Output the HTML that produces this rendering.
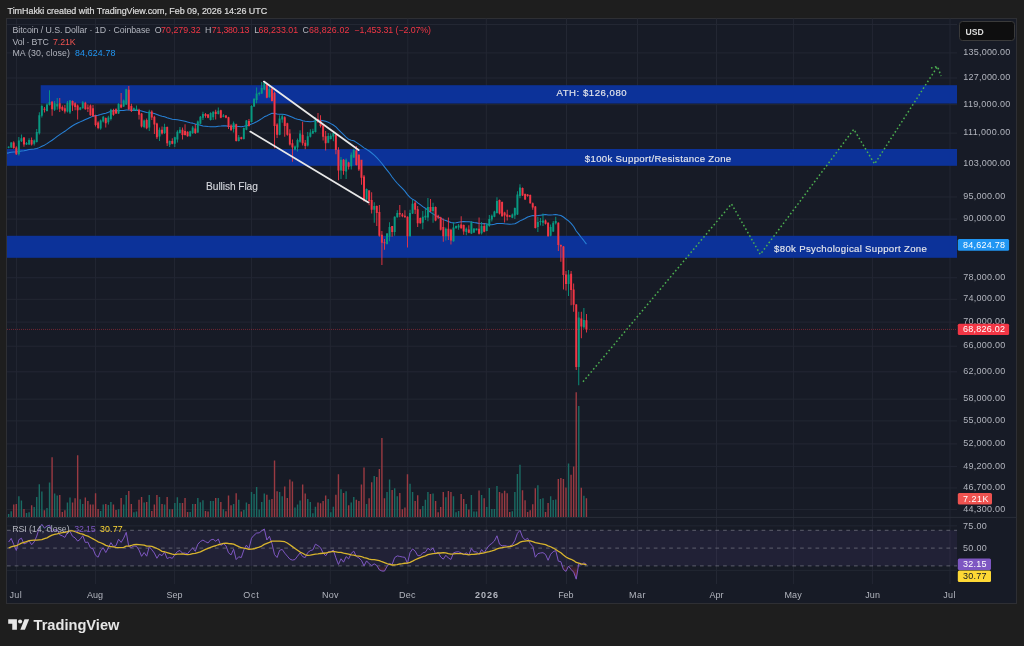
<!DOCTYPE html>
<html><head><meta charset="utf-8"><style>html,body{margin:0;padding:0;background:#1e1e1e;width:1024px;height:646px;overflow:hidden}</style></head>
<body><div style="will-change:transform;width:1024px;height:646px"><svg width="1024" height="646" viewBox="0 0 1024 646" style="display:block"><rect x="0" y="0" width="1024" height="646" fill="#1e1e1e"/><defs><clipPath id="chartclip"><rect x="7" y="18.5" width="950" height="499"/></clipPath></defs><rect x="6.5" y="18.5" width="1010" height="585" fill="#171b26" stroke="#2e2f34" stroke-width="1"/><path d="M16.6 18.5V584 M95.6 18.5V584 M174.6 18.5V584 M251.6 18.5V584 M330.3 18.5V584 M407.8 18.5V584 M486.3 18.5V584 M566.5 18.5V584 M637.5 18.5V584 M716.5 18.5V584 M793.6 18.5V584 M872.4 18.5V584 M950.0 18.5V584 M7 52.93H957 M7 77.97H957 M7 104.63H957 M7 133.15H957 M7 163.80H957 M7 196.94H957 M7 219.09H957 M7 277.74H957 M7 299.31H957 M7 322.08H957 M7 346.20H957 M7 371.82H957 M7 399.15H957 M7 420.91H957 M7 443.90H957 M7 466.58H957 M7 487.95H957 M7 509.57H957 M7 24.5H957 M7 525.85H957 M7 570.35H957" stroke="#232733" stroke-width="1" fill="none"/><path d="M7 517.4H1017" stroke="#2a2e39" stroke-width="1"/><g fill="#0c3299" fill-opacity="1"><rect x="40.7" y="85.2" width="916.3" height="18.3"/><rect x="7" y="149" width="950" height="16.8"/><rect x="7" y="235.8" width="950" height="22"/></g><path d="M7.93 514.0H9.33V517H7.93ZM10.49 511.2H11.89V517H10.49ZM18.16 496.3H19.56V517H18.16ZM20.71 500.4H22.11V517H20.71ZM25.83 513.0H27.23V517H25.83ZM28.38 512.2H29.78V517H28.38ZM33.50 506.9H34.90V517H33.50ZM36.05 497.0H37.45V517H36.05ZM38.61 484.2H40.01V517H38.61ZM41.17 491.4H42.57V517H41.17ZM46.28 508.1H47.68V517H46.28ZM48.84 482.4H50.24V517H48.84ZM53.95 493.5H55.35V517H53.95ZM56.51 495.4H57.91V517H56.51ZM66.73 502.5H68.13V517H66.73ZM69.29 497.6H70.69V517H69.29ZM79.52 499.2H80.92V517H79.52ZM82.07 504.0H83.47V517H82.07ZM99.97 511.0H101.37V517H99.97ZM102.53 504.4H103.93V517H102.53ZM107.64 505.0H109.04V517H107.64ZM110.20 501.9H111.60V517H110.20ZM117.87 509.3H119.27V517H117.87ZM122.98 504.4H124.38V517H122.98ZM125.54 494.9H126.94V517H125.54ZM133.21 512.2H134.61V517H133.21ZM135.76 511.6H137.16V517H135.76ZM143.44 502.5H144.84V517H143.44ZM148.55 494.9H149.95V517H148.55ZM158.78 497.0H160.18V517H158.78ZM163.89 504.4H165.29V517H163.89ZM169.00 509.3H170.40V517H169.00ZM174.12 502.9H175.52V517H174.12ZM176.67 497.3H178.07V517H176.67ZM179.23 502.9H180.63V517H179.23ZM189.46 512.1H190.86V517H189.46ZM192.01 504.0H193.41V517H192.01ZM197.13 498.0H198.53V517H197.13ZM199.68 502.3H201.08V517H199.68ZM202.24 500.3H203.64V517H202.24ZM209.91 501.0H211.31V517H209.91ZM212.47 501.0H213.87V517H212.47ZM217.58 498.0H218.98V517H217.58ZM222.69 509.3H224.09V517H222.69ZM232.92 504.0H234.32V517H232.92ZM238.03 499.8H239.43V517H238.03ZM243.15 510.1H244.55V517H243.15ZM245.70 502.5H247.10V517H245.70ZM250.82 492.0H252.22V517H250.82ZM253.37 494.1H254.77V517H253.37ZM255.93 487.1H257.33V517H255.93ZM258.49 509.4H259.89V517H258.49ZM261.04 502.0H262.44V517H261.04ZM263.60 493.4H265.00V517H263.60ZM268.71 499.7H270.11V517H268.71ZM278.94 492.0H280.34V517H278.94ZM281.50 496.2H282.90V517H281.50ZM294.28 507.4H295.68V517H294.28ZM296.84 504.6H298.24V517H296.84ZM299.39 500.4H300.79V517H299.39ZM307.06 499.0H308.46V517H307.06ZM309.62 502.0H311.02V517H309.62ZM312.18 513.2H313.58V517H312.18ZM314.73 506.7H316.13V517H314.73ZM327.52 499.0H328.92V517H327.52ZM330.07 512.2H331.47V517H330.07ZM332.63 506.7H334.03V517H332.63ZM340.30 489.2H341.70V517H340.30ZM345.41 491.3H346.81V517H345.41ZM350.53 502.5H351.93V517H350.53ZM353.08 496.9H354.48V517H353.08ZM365.87 503.9H367.27V517H365.87ZM373.54 476.0H374.94V517H373.54ZM386.32 492.0H387.72V517H386.32ZM388.88 479.5H390.28V517H388.88ZM393.99 488.3H395.39V517H393.99ZM396.55 496.2H397.95V517H396.55ZM409.33 483.7H410.73V517H409.33ZM411.89 492.0H413.29V517H411.89ZM422.12 506.0H423.52V517H422.12ZM424.67 499.7H426.07V517H424.67ZM427.23 492.0H428.63V517H427.23ZM432.34 493.4H433.74V517H432.34ZM445.13 497.2H446.53V517H445.13ZM452.80 496.2H454.20V517H452.80ZM455.35 512.2H456.75V517H455.35ZM457.91 511.1H459.31V517H457.91ZM465.58 504.1H466.98V517H465.58ZM470.69 495.1H472.09V517H470.69ZM473.25 511.6H474.65V517H473.25ZM475.81 511.6H477.21V517H475.81ZM480.92 495.1H482.32V517H480.92ZM486.03 506.9H487.43V517H486.03ZM488.59 488.1H489.99V517H488.59ZM491.15 509.1H492.55V517H491.15ZM493.70 509.1H495.10V517H493.70ZM496.26 486.1H497.66V517H496.26ZM511.60 511.3H513.00V517H511.60ZM514.16 492.0H515.56V517H514.16ZM516.71 474.1H518.11V517H516.71ZM519.27 464.8H520.67V517H519.27ZM537.17 485.2H538.57V517H537.17ZM539.72 498.9H541.12V517H539.72ZM542.28 498.2H543.68V517H542.28ZM549.95 496.2H551.35V517H549.95ZM552.51 499.9H553.91V517H552.51ZM555.06 499.5H556.46V517H555.06ZM567.85 463.4H569.25V517H567.85ZM578.07 405.9H579.47V517H578.07ZM583.19 495.7H584.59V517H583.19Z" fill="#1a6b63"/><path d="M13.04 504.6H14.44V517H13.04ZM15.60 504.1H17.00V517H15.60ZM23.27 509.1H24.67V517H23.27ZM30.94 505.3H32.34V517H30.94ZM43.72 510.2H45.12V517H43.72ZM51.39 457.3H52.79V517H51.39ZM59.06 495.1H60.46V517H59.06ZM61.62 512.1H63.02V517H61.62ZM64.18 510.2H65.58V517H64.18ZM71.85 502.5H73.25V517H71.85ZM74.40 498.2H75.80V517H74.40ZM76.96 455.2H78.36V517H76.96ZM84.63 497.6H86.03V517H84.63ZM87.19 500.9H88.59V517H87.19ZM89.74 504.4H91.14V517H89.74ZM92.30 504.4H93.70V517H92.30ZM94.86 493.3H96.26V517H94.86ZM97.41 509.0H98.81V517H97.41ZM105.08 504.0H106.48V517H105.08ZM112.75 504.4H114.15V517H112.75ZM115.31 510.0H116.71V517H115.31ZM120.42 498.0H121.82V517H120.42ZM128.09 491.0H129.49V517H128.09ZM130.65 504.0H132.05V517H130.65ZM138.32 499.8H139.72V517H138.32ZM140.88 497.0H142.28V517H140.88ZM145.99 501.9H147.39V517H145.99ZM151.11 511.0H152.51V517H151.11ZM153.66 504.4H155.06V517H153.66ZM156.22 494.9H157.62V517H156.22ZM161.33 504.0H162.73V517H161.33ZM166.45 497.0H167.85V517H166.45ZM171.56 509.3H172.96V517H171.56ZM181.79 502.9H183.19V517H181.79ZM184.34 498.0H185.74V517H184.34ZM186.90 512.1H188.30V517H186.90ZM194.57 504.0H195.97V517H194.57ZM204.80 511.0H206.20V517H204.80ZM207.35 511.6H208.75V517H207.35ZM215.02 498.0H216.42V517H215.02ZM220.14 501.9H221.54V517H220.14ZM225.25 511.2H226.65V517H225.25ZM227.81 495.4H229.21V517H227.81ZM230.36 505.3H231.76V517H230.36ZM235.48 493.3H236.88V517H235.48ZM240.59 511.5H241.99V517H240.59ZM248.26 503.9H249.66V517H248.26ZM266.16 494.8H267.56V517H266.16ZM271.27 499.0H272.67V517H271.27ZM273.83 460.4H275.23V517H273.83ZM276.38 491.3H277.78V517H276.38ZM284.05 486.4H285.45V517H284.05ZM286.61 497.9H288.01V517H286.61ZM289.17 479.5H290.57V517H289.17ZM291.72 481.6H293.12V517H291.72ZM301.95 484.4H303.35V517H301.95ZM304.51 493.4H305.91V517H304.51ZM317.29 502.5H318.69V517H317.29ZM319.85 503.2H321.25V517H319.85ZM322.40 501.1H323.80V517H322.40ZM324.96 495.5H326.36V517H324.96ZM335.19 494.8H336.59V517H335.19ZM337.74 474.3H339.14V517H337.74ZM342.86 493.0H344.26V517H342.86ZM347.97 505.3H349.37V517H347.97ZM355.64 499.7H357.04V517H355.64ZM358.20 501.1H359.60V517H358.20ZM360.75 484.4H362.15V517H360.75ZM363.31 467.4H364.71V517H363.31ZM368.42 498.3H369.82V517H368.42ZM370.98 482.3H372.38V517H370.98ZM376.09 477.1H377.49V517H376.09ZM378.65 469.0H380.05V517H378.65ZM381.21 438.1H382.61V517H381.21ZM383.76 498.3H385.16V517H383.76ZM391.43 489.9H392.83V517H391.43ZM399.11 493.0H400.51V517H399.11ZM401.66 509.2H403.06V517H401.66ZM404.22 507.4H405.62V517H404.22ZM406.78 474.3H408.18V517H406.78ZM414.45 501.1H415.85V517H414.45ZM417.00 495.2H418.40V517H417.00ZM419.56 509.2H420.96V517H419.56ZM429.79 494.1H431.19V517H429.79ZM434.90 501.1H436.30V517H434.90ZM437.46 512.2H438.86V517H437.46ZM440.01 507.1H441.41V517H440.01ZM442.57 492.0H443.97V517H442.57ZM447.68 491.0H449.08V517H447.68ZM450.24 492.0H451.64V517H450.24ZM460.47 494.1H461.87V517H460.47ZM463.02 499.0H464.42V517H463.02ZM468.14 509.4H469.54V517H468.14ZM478.36 490.6H479.76V517H478.36ZM483.48 498.2H484.88V517H483.48ZM498.82 492.0H500.22V517H498.82ZM501.37 493.3H502.77V517H501.37ZM503.93 490.8H505.33V517H503.93ZM506.49 493.3H507.89V517H506.49ZM509.04 512.1H510.44V517H509.04ZM521.83 490.2H523.23V517H521.83ZM524.38 500.3H525.78V517H524.38ZM526.94 512.1H528.34V517H526.94ZM529.50 510.3H530.90V517H529.50ZM532.05 504.2H533.45V517H532.05ZM534.61 488.3H536.01V517H534.61ZM544.84 512.0H546.24V517H544.84ZM547.39 503.0H548.79V517H547.39ZM557.62 479.0H559.02V517H557.62ZM560.18 478.0H561.58V517H560.18ZM562.73 479.0H564.13V517H562.73ZM565.29 487.4H566.69V517H565.29ZM570.40 474.8H571.80V517H570.40ZM572.96 466.5H574.36V517H572.96ZM575.52 392.3H576.92V517H575.52ZM580.63 487.8H582.03V517H580.63ZM585.74 498.2H587.14V517H585.74Z" fill="#9a3a42"/><polyline points="6.07,153.23 8.63,152.86 11.19,152.35 13.74,152.06 16.30,152.02 18.86,151.57 21.41,151.04 23.97,150.66 26.53,150.14 29.08,149.55 31.64,149.23 34.20,148.98 36.75,148.57 39.31,147.62 41.87,146.34 44.42,145.15 46.98,143.65 49.54,141.89 52.09,140.26 54.65,138.34 57.21,136.41 59.76,134.64 62.32,132.92 64.88,131.30 67.43,129.41 69.99,127.49 72.55,125.79 75.10,124.24 77.66,122.98 80.22,121.89 82.77,120.74 85.33,119.51 87.89,118.40 90.44,117.35 93.00,116.14 95.56,115.63 98.11,115.31 100.67,114.55 103.23,113.71 105.78,113.18 108.34,112.31 110.90,111.32 113.45,110.76 116.01,110.70 118.57,110.63 121.12,110.56 123.68,110.43 126.24,109.98 128.79,109.98 131.35,110.23 133.91,110.38 136.46,110.38 139.02,110.54 141.58,111.04 144.14,111.64 146.69,112.55 149.25,112.75 151.81,113.10 154.36,113.57 156.92,114.54 159.48,115.45 162.03,116.25 164.59,116.86 167.15,117.77 169.70,118.57 172.26,119.17 174.82,119.47 177.37,119.84 179.93,120.26 182.49,120.65 185.04,121.23 187.60,122.10 190.16,122.66 192.71,123.12 195.27,124.11 197.83,124.58 200.38,125.14 202.94,126.02 205.50,126.25 208.05,126.49 210.61,126.65 213.17,126.76 215.72,126.73 218.28,126.19 220.84,126.10 223.39,125.67 225.95,125.89 228.51,126.22 231.06,126.41 233.62,125.94 236.18,126.31 238.73,126.44 241.29,126.83 243.85,126.34 246.40,125.66 248.96,125.08 251.52,124.03 254.07,122.91 256.63,121.67 259.19,120.23 261.74,118.64 264.30,116.83 266.86,115.70 269.41,114.40 271.97,113.35 274.53,113.49 277.08,114.08 279.64,114.22 282.20,114.23 284.75,114.50 287.31,115.21 289.87,116.26 292.42,117.35 294.98,118.51 297.54,119.23 300.09,119.83 302.65,120.66 305.21,121.27 307.76,121.46 310.32,121.77 312.88,121.44 315.43,120.86 317.99,120.31 320.55,120.24 323.10,120.78 325.66,121.34 328.22,122.34 330.77,123.60 333.33,124.96 335.89,126.88 338.44,129.63 341.00,132.24 343.56,134.68 346.11,137.11 348.67,139.32 351.23,140.28 353.78,140.79 356.34,142.34 358.90,144.12 361.45,145.82 364.01,147.90 366.57,149.32 369.12,151.00 371.68,152.98 374.24,155.08 376.79,157.62 379.35,160.49 381.91,163.48 384.46,166.85 387.02,170.11 389.58,173.26 392.13,177.02 394.69,180.25 397.25,183.24 399.81,185.90 402.36,188.37 404.92,191.18 407.48,194.59 410.03,197.41 412.59,199.31 415.15,200.65 417.70,202.82 420.26,204.59 422.82,206.58 425.37,208.28 427.93,210.15 430.49,212.36 433.04,213.85 435.60,215.64 438.16,217.03 440.71,218.02 443.27,219.62 445.83,220.55 448.38,221.44 450.94,222.59 453.50,223.07 456.05,222.76 458.61,222.20 461.17,221.71 463.72,221.64 466.28,221.69 468.84,221.72 471.39,221.90 473.95,222.42 476.51,222.88 479.06,223.46 481.62,223.75 484.18,223.60 486.73,224.00 489.29,224.53 491.85,224.74 494.40,224.34 496.96,223.57 499.52,223.46 502.07,223.47 504.63,223.77 507.19,223.95 509.74,224.28 512.30,224.08 514.86,223.75 517.41,222.55 519.97,220.88 522.53,219.75 525.08,218.52 527.64,217.04 530.20,216.22 532.75,215.61 535.31,215.69 537.87,215.49 540.42,215.15 542.98,214.89 545.54,214.60 548.09,215.05 550.65,215.00 553.21,214.82 555.76,214.41 558.32,215.01 560.88,215.48 563.43,217.02 565.99,219.01 568.55,220.85 571.10,223.30 573.66,226.54 576.22,230.97 578.77,234.08 581.33,237.49 583.89,240.70 586.44,244.18" fill="none" stroke="#2780d6" stroke-width="1.05" stroke-linejoin="round" clip-path="url(#chartclip)"/><path d="M7.63 146.8H9.63V147.8H7.63ZM8.18 146.2H9.08V148.3H8.18ZM10.19 142.5H12.19V147.5H10.19ZM10.74 141.9H11.64V148.1H10.74ZM17.86 140.6H19.86V154.3H17.86ZM18.41 136.9H19.31V155.5H18.41ZM20.41 138.2H22.41V141.3H20.41ZM20.96 134.5H21.86V141.9H20.96ZM25.53 143.0H27.53V144.4H25.53ZM26.08 141.9H26.98V145.0H26.08ZM28.08 140.0H30.08V144.4H28.08ZM28.63 138.2H29.53V145.0H28.63ZM33.20 140.6H35.20V143.7H33.20ZM33.75 139.4H34.65V145.6H33.75ZM35.75 132.0H37.75V141.9H35.75ZM36.30 128.9H37.20V142.5H36.30ZM38.31 115.3H40.31V133.2H38.31ZM38.86 112.2H39.76V134.5H38.86ZM40.87 106.0H42.87V115.7H40.87ZM41.42 104.4H42.32V117.4H41.42ZM45.98 104.4H47.98V110.9H45.98ZM46.53 103.3H47.43V111.4H46.53ZM48.54 102.2H50.54V104.9H48.54ZM49.09 90.3H49.99V105.4H49.09ZM53.65 103.3H55.65V109.8H53.65ZM54.20 101.1H55.10V110.9H54.20ZM56.21 103.8H58.21V106.5H56.21ZM56.76 97.9H57.66V109.8H56.76ZM66.43 102.7H68.43V111.4H66.43ZM66.98 101.1H67.88V112.5H66.98ZM68.99 100.6H70.99V112.5H68.99ZM69.54 100.0H70.44V114.1H69.54ZM79.22 107.6H81.22V109.8H79.22ZM79.77 107.1H80.67V110.3H79.77ZM81.77 102.2H83.77V108.2H81.77ZM82.32 101.1H83.22V108.7H82.32ZM99.67 120.6H101.67V128.5H99.67ZM100.22 119.5H101.12V129.8H100.22ZM102.23 116.8H104.23V121.5H102.23ZM102.78 116.0H103.68V122.5H102.78ZM107.34 117.4H109.34V122.2H107.34ZM107.89 115.7H108.79V124.4H107.89ZM109.90 109.8H111.90V119.0H109.90ZM110.45 108.7H111.35V120.6H110.45ZM117.57 103.8H119.57V113.6H117.57ZM118.12 103.3H119.02V114.1H118.12ZM122.68 100.6H124.68V106.5H122.68ZM123.23 99.5H124.13V107.1H123.23ZM125.24 89.2H127.24V104.4H125.24ZM125.79 88.7H126.69V104.9H125.79ZM132.91 108.2H134.91V110.3H132.91ZM133.46 107.6H134.36V110.9H133.46ZM135.46 108.7H137.46V110.3H135.46ZM136.01 105.4H136.91V110.9H136.01ZM143.14 120.6H145.14V127.1H143.14ZM143.69 119.5H144.59V128.2H143.69ZM148.25 111.4H150.25V127.6H148.25ZM148.80 109.8H149.70V130.9H148.80ZM158.48 129.8H160.48V136.5H158.48ZM159.03 127.5H159.93V141.0H159.03ZM163.59 127.0H165.59V132.9H163.59ZM164.14 123.7H165.04V134.0H164.14ZM168.70 141.0H170.70V144.8H168.70ZM169.25 140.5H170.15V147.0H169.25ZM173.82 137.2H175.82V143.7H173.82ZM174.37 136.7H175.27V147.0H174.37ZM176.37 131.8H178.37V139.4H176.37ZM176.92 130.2H177.82V142.6H176.92ZM178.93 129.7H180.93V132.9H178.93ZM179.48 127.0H180.38V133.4H179.48ZM189.16 131.3H191.16V136.2H189.16ZM189.71 130.7H190.61V136.7H189.71ZM191.71 127.5H193.71V132.9H191.71ZM192.26 125.9H193.16V134.0H192.26ZM196.83 121.5H198.83V132.4H196.83ZM197.38 120.4H198.28V132.9H197.38ZM199.38 116.7H201.38V123.7H199.38ZM199.93 116.1H200.83V124.2H199.93ZM201.94 114.0H203.94V117.7H201.94ZM202.49 111.8H203.39V119.9H202.49ZM209.61 112.9H211.61V119.9H209.61ZM210.16 112.3H211.06V120.4H210.16ZM212.17 111.8H214.17V117.2H212.17ZM212.72 111.2H213.62V119.9H212.72ZM217.28 110.7H219.28V114.0H217.28ZM217.83 107.5H218.73V114.5H217.83ZM222.39 115.6H224.39V116.7H222.39ZM222.94 114.0H223.84V117.2H222.94ZM232.62 123.2H234.62V129.1H232.62ZM233.17 121.6H234.07V132.4H233.17ZM237.73 137.3H239.73V141.1H237.73ZM238.28 135.1H239.18V141.6H238.28ZM242.85 128.1H244.85V138.9H242.85ZM243.40 127.5H244.30V139.4H243.40ZM245.40 120.5H247.40V129.7H245.40ZM245.95 119.9H246.85V130.2H245.95ZM250.52 105.9H252.52V122.1H250.52ZM251.07 105.3H251.97V122.6H251.07ZM253.07 98.8H255.07V106.4H253.07ZM253.62 98.3H254.52V106.9H253.62ZM255.63 93.4H257.63V99.9H255.63ZM256.18 87.5H257.08V103.2H256.18ZM258.19 92.9H260.19V94.0H258.19ZM258.74 91.8H259.64V95.6H258.74ZM260.74 88.0H262.74V93.4H260.74ZM261.29 82.0H262.19V94.0H261.29ZM263.30 83.1H265.30V89.6H263.30ZM263.85 81.5H264.75V90.2H263.85ZM268.41 89.1H270.41V97.2H268.41ZM268.96 86.4H269.86V97.7H268.96ZM278.64 118.4H280.64V134.7H278.64ZM279.19 115.2H280.09V135.2H279.19ZM281.20 116.2H283.20V119.5H281.20ZM281.75 114.6H282.65V122.7H281.75ZM293.98 146.6H295.98V149.8H293.98ZM294.53 145.5H295.43V150.4H294.53ZM296.54 140.0H298.54V147.6H296.54ZM297.09 138.4H297.99V151.4H297.09ZM299.09 133.6H301.09V141.7H299.09ZM299.64 130.3H300.54V142.8H299.64ZM306.76 136.3H308.76V145.5H306.76ZM307.31 131.9H308.21V146.6H307.31ZM309.32 132.5H311.32V136.8H309.32ZM309.87 129.2H310.77V137.4H309.87ZM311.88 130.9H313.88V133.6H311.88ZM312.43 128.7H313.33V134.1H312.43ZM314.43 119.5H316.43V132.0H314.43ZM314.98 117.3H315.88V132.5H314.98ZM327.22 136.0H329.22V142.8H327.22ZM327.77 133.1H328.67V143.3H327.77ZM329.77 135.8H331.77V139.1H329.77ZM330.32 133.6H331.22V139.6H330.32ZM332.33 133.1H334.33V136.4H332.33ZM332.88 132.0H333.78V141.2H332.88ZM340.00 159.7H342.00V170.5H340.00ZM340.55 157.0H341.45V179.1H340.55ZM345.11 159.7H347.11V171.6H345.11ZM345.66 158.6H346.56V179.1H345.66ZM350.23 154.8H352.23V166.2H350.23ZM350.78 152.6H351.68V169.4H350.78ZM352.78 149.9H354.78V157.5H352.78ZM353.33 148.8H354.23V158.0H353.33ZM365.57 189.0H367.57V199.4H365.57ZM366.12 188.5H367.02V200.0H366.12ZM373.24 206.0H375.24V209.7H373.24ZM373.79 202.2H374.69V222.7H373.79ZM386.02 233.6H388.02V243.9H386.02ZM386.57 233.0H387.47V244.4H386.57ZM388.58 227.0H390.58V236.8H388.58ZM389.13 222.2H390.03V241.2H389.13ZM393.69 216.8H395.69V232.0H393.69ZM394.24 216.2H395.14V235.7H394.24ZM396.25 213.0H398.25V217.3H396.25ZM396.80 210.3H397.70V217.8H396.80ZM409.03 213.0H411.03V236.3H409.03ZM409.58 209.7H410.48V236.8H409.58ZM411.59 203.8H413.59V213.5H411.59ZM412.14 200.0H413.04V214.1H412.14ZM421.82 216.8H423.82V222.8H421.82ZM422.37 210.9H423.27V229.3H422.37ZM424.37 215.7H426.37V217.4H424.37ZM424.92 208.7H425.82V220.0H424.92ZM426.93 207.0H428.93V217.4H426.93ZM427.48 197.9H428.38V221.2H427.48ZM432.04 207.0H434.04V210.9H432.04ZM432.59 202.7H433.49V222.8H432.59ZM444.83 228.7H446.83V236.3H444.83ZM445.38 227.6H446.28V240.6H445.38ZM452.50 227.6H454.50V241.2H452.50ZM453.05 222.2H453.95V241.7H453.05ZM455.05 226.0H457.05V228.2H455.05ZM455.60 225.5H456.50V228.7H455.60ZM457.61 225.5H459.61V227.6H457.61ZM458.16 223.9H459.06V229.8H458.16ZM465.28 228.7H467.28V232.0H465.28ZM465.83 227.6H466.73V235.2H465.83ZM470.39 222.2H472.39V233.4H470.39ZM470.94 221.2H471.84V234.0H470.94ZM472.95 228.5H474.95V232.5H472.95ZM473.50 228.2H474.40V233.0H473.50ZM475.51 228.5H477.51V230.2H475.51ZM476.06 228.2H476.96V230.6H476.06ZM480.62 225.9H482.62V233.2H480.62ZM481.17 222.1H482.07V234.5H481.17ZM485.73 224.8H487.73V231.0H485.73ZM486.28 223.2H487.18V231.3H486.28ZM488.29 219.1H490.29V225.9H488.29ZM488.84 215.0H489.74V226.7H488.84ZM490.85 215.8H492.85V219.6H490.85ZM491.40 214.5H492.30V221.6H491.40ZM493.40 211.5H495.40V216.7H493.40ZM493.95 210.7H494.85V217.2H493.95ZM495.96 201.0H497.96V212.9H495.96ZM496.51 197.2H497.41V213.4H496.51ZM511.30 214.5H513.30V217.8H511.30ZM511.85 213.4H512.75V218.3H511.85ZM513.86 208.0H515.86V215.6H513.86ZM514.41 207.5H515.31V218.9H514.41ZM516.41 194.5H518.41V214.5H516.41ZM516.96 191.2H517.86V215.0H516.96ZM518.97 187.5H520.97V196.1H518.97ZM519.52 184.2H520.42V198.3H519.52ZM536.87 222.1H538.87V227.0H536.87ZM537.42 216.7H538.32V231.9H537.42ZM539.42 221.0H541.42V222.1H539.42ZM539.97 217.9H540.87V225.4H539.97ZM541.98 220.5H543.98V222.7H541.98ZM542.53 213.6H543.43V226.0H542.53ZM549.65 227.0H551.65V235.7H549.65ZM550.20 224.4H551.10V236.3H550.20ZM552.21 222.7H554.21V231.4H552.21ZM552.76 221.1H553.66V232.0H552.76ZM554.76 221.1H556.76V223.3H554.76ZM555.31 216.8H556.21V224.4H555.31ZM567.55 274.4H569.55V284.1H567.55ZM568.10 270.0H569.00V296.0H568.10ZM577.77 317.6H579.77V366.9H577.77ZM578.32 311.8H579.22V385.3H578.32ZM582.89 319.9H584.89V327.2H582.89ZM583.44 308.1H584.34V328.7H583.44Z" fill="#089981"/><path d="M12.74 142.5H14.74V148.0H12.74ZM13.29 141.3H14.19V148.7H13.29ZM15.30 147.5H17.30V154.3H15.30ZM15.85 146.2H16.75V154.9H15.85ZM22.97 137.5H24.97V144.4H22.97ZM23.52 136.9H24.42V146.8H23.52ZM30.64 140.0H32.64V144.4H30.64ZM31.19 137.5H32.09V145.6H31.19ZM43.42 108.7H45.42V109.8H43.42ZM43.97 107.1H44.87V112.5H43.97ZM51.09 101.7H53.09V109.2H51.09ZM51.64 101.0H52.54V115.7H51.64ZM58.76 103.3H60.76V108.7H58.76ZM59.31 97.9H60.21V112.0H59.31ZM61.32 107.0H63.32V109.8H61.32ZM61.87 105.4H62.77V110.9H61.87ZM63.88 108.2H65.88V111.4H63.88ZM64.43 104.9H65.33V113.6H64.43ZM71.55 101.1H73.55V105.4H71.55ZM72.10 100.6H73.00V110.9H72.10ZM74.10 103.3H76.10V107.0H74.10ZM74.65 102.2H75.55V110.3H74.65ZM76.66 105.4H78.66V110.3H76.66ZM77.21 104.4H78.11V119.5H77.21ZM84.33 102.7H86.33V109.2H84.33ZM84.88 101.7H85.78V109.8H84.88ZM86.89 107.6H88.89V108.7H86.89ZM87.44 104.4H88.34V112.0H87.44ZM89.44 105.4H91.44V115.2H89.44ZM89.99 104.4H90.89V115.7H89.99ZM92.00 108.2H94.00V116.3H92.00ZM92.55 104.9H93.45V116.8H92.55ZM94.56 115.7H96.56V124.9H94.56ZM95.11 114.7H96.01V126.6H95.11ZM97.11 122.5H99.11V128.0H97.11ZM97.66 121.2H98.56V129.3H97.66ZM104.78 117.9H106.78V123.3H104.78ZM105.33 117.4H106.23V127.6H105.33ZM112.45 110.3H114.45V114.7H112.45ZM113.00 108.7H113.90V115.7H113.00ZM115.01 109.2H117.01V113.6H115.01ZM115.56 108.2H116.46V114.1H115.56ZM120.12 104.4H122.12V107.6H120.12ZM120.67 93.0H121.57V108.2H120.67ZM127.79 89.7H129.79V109.2H127.79ZM128.34 86.0H129.24V110.3H128.34ZM130.35 106.0H132.35V110.9H130.35ZM130.90 103.8H131.80V112.0H130.90ZM138.02 109.8H140.02V114.7H138.02ZM138.57 108.7H139.47V119.5H138.57ZM140.58 113.6H142.58V126.6H140.58ZM141.13 113.0H142.03V127.6H141.13ZM145.69 120.0H147.69V128.2H145.69ZM146.24 118.4H147.14V129.3H146.24ZM150.81 111.4H152.81V117.4H150.81ZM151.36 110.3H152.26V120.1H151.36ZM153.36 116.8H155.36V124.4H153.36ZM153.91 115.7H154.81V134.1H153.91ZM155.92 123.5H157.92V137.3H155.92ZM156.47 122.8H157.37V139.0H156.47ZM161.03 129.7H163.03V133.4H161.03ZM161.58 126.4H162.48V134.5H161.58ZM166.15 127.0H168.15V143.2H166.15ZM166.70 126.4H167.60V145.9H166.70ZM171.26 141.0H173.26V143.7H171.26ZM171.81 138.3H172.71V144.3H171.81ZM181.49 129.7H183.49V135.1H181.49ZM182.04 127.5H182.94V139.4H182.04ZM184.04 131.0H186.04V135.0H184.04ZM184.59 124.2H185.49V135.5H184.59ZM186.60 131.8H188.60V136.2H186.60ZM187.15 131.3H188.05V136.7H187.15ZM194.27 128.6H196.27V132.9H194.27ZM194.82 124.2H195.72V134.0H194.82ZM204.50 114.0H206.50V116.1H204.50ZM205.05 112.9H205.95V117.7H205.05ZM207.05 114.5H209.05V117.7H207.05ZM207.60 114.0H208.50V118.3H207.60ZM214.72 111.8H216.72V114.0H214.72ZM215.27 109.7H216.17V119.4H215.27ZM219.84 110.2H221.84V117.8H219.84ZM220.39 109.7H221.29V118.3H220.39ZM224.95 115.6H226.95V117.8H224.95ZM225.50 115.1H226.40V118.3H225.50ZM227.51 117.2H229.51V127.0H227.51ZM228.06 116.7H228.96V129.1H228.06ZM230.06 125.4H232.06V130.2H230.06ZM230.61 124.3H231.51V130.8H230.61ZM235.18 124.3H237.18V141.1H235.18ZM235.73 123.7H236.63V141.6H235.73ZM240.29 137.3H242.29V138.9H240.29ZM240.84 136.7H241.74V139.4H240.84ZM247.96 121.0H249.96V125.9H247.96ZM248.51 118.9H249.41V126.4H248.51ZM265.86 84.2H267.86V97.7H265.86ZM266.41 83.7H267.31V98.3H266.41ZM270.97 88.5H272.97V101.0H270.97ZM271.52 88.0H272.42V101.5H271.52ZM273.53 92.9H275.53V126.0H273.53ZM274.08 91.8H274.98V148.2H274.08ZM276.08 124.4H278.08V134.7H276.08ZM276.63 123.3H277.53V137.9H276.63ZM283.75 117.3H285.75V126.0H283.75ZM284.30 116.2H285.20V136.8H284.30ZM286.31 123.3H288.31V134.7H286.31ZM286.86 122.7H287.76V135.7H286.86ZM288.87 133.6H290.87V144.4H288.87ZM289.42 129.2H290.32V145.5H289.42ZM291.42 143.3H293.42V147.6H291.42ZM291.97 139.5H292.87V161.7H291.97ZM301.65 134.7H303.65V143.3H301.65ZM302.20 121.7H303.10V145.5H302.20ZM304.21 142.8H306.21V146.0H304.21ZM304.76 140.0H305.66V149.3H304.76ZM316.99 119.0H318.99V122.2H316.99ZM317.54 113.0H318.44V122.7H317.54ZM319.55 121.1H321.55V126.0H319.55ZM320.10 115.2H321.00V127.6H320.10ZM322.10 125.4H324.10V136.8H322.10ZM322.65 124.4H323.55V140.6H322.65ZM324.66 136.3H326.66V143.3H324.66ZM325.21 130.9H326.11V150.4H325.21ZM334.89 134.7H336.89V149.9H334.89ZM335.44 133.7H336.34V154.2H335.44ZM337.44 149.9H339.44V170.5H337.44ZM337.99 147.2H338.89V180.2H337.99ZM342.56 159.7H344.56V171.0H342.56ZM343.11 159.1H344.01V174.8H343.11ZM347.67 162.4H349.67V166.7H347.67ZM348.22 161.8H349.12V169.4H348.22ZM355.34 150.4H357.34V165.1H355.34ZM355.89 146.1H356.79V165.6H355.89ZM357.90 154.8H359.90V169.4H357.90ZM358.45 154.2H359.35V171.0H358.45ZM360.45 159.7H362.45V177.7H360.45ZM361.00 159.7H361.90V184.7H361.00ZM363.01 176.6H365.01V200.4H363.01ZM363.56 175.0H364.46V201.5H363.56ZM368.12 190.2H370.12V201.0H368.12ZM368.67 190.2H369.57V205.3H368.67ZM370.68 199.9H372.68V209.7H370.68ZM371.23 192.3H372.13V213.4H371.23ZM375.79 206.0H377.79V213.0H375.79ZM376.34 205.4H377.24V226.0H376.34ZM378.35 211.9H380.35V235.7H378.35ZM378.90 204.9H379.80V236.7H378.90ZM380.91 234.7H382.91V242.8H380.91ZM381.46 230.9H382.36V265.0H381.46ZM383.46 242.2H385.46V243.3H383.46ZM384.01 239.0H384.91V249.8H384.01ZM391.13 226.0H393.13V232.0H391.13ZM391.68 226.0H392.58V236.8H391.68ZM398.81 213.0H400.81V214.6H398.81ZM399.36 204.9H400.26V217.3H399.36ZM401.36 214.6H403.36V216.2H401.36ZM401.91 213.0H402.81V217.3H401.91ZM403.92 215.7H405.92V217.3H403.92ZM404.47 210.3H405.37V217.8H404.47ZM406.48 216.8H408.48V236.3H406.48ZM407.03 216.2H407.93V247.6H407.03ZM414.15 202.7H416.15V209.7H414.15ZM414.70 201.1H415.60V214.1H414.70ZM416.70 209.2H418.70V223.3H416.70ZM417.25 206.0H418.15V227.0H417.25ZM419.26 217.9H421.26V223.3H419.26ZM419.81 217.4H420.71V223.8H419.81ZM429.49 207.0H431.49V211.4H429.49ZM430.04 199.0H430.94V212.0H430.04ZM434.60 207.0H436.60V220.6H434.60ZM435.15 206.5H436.05V221.2H435.15ZM437.16 215.7H439.16V217.4H437.16ZM437.71 214.7H438.61V219.0H437.71ZM439.71 217.4H441.71V229.8H439.71ZM440.26 216.8H441.16V230.4H440.26ZM442.27 227.1H444.27V236.3H442.27ZM442.82 218.4H443.72V241.7H442.82ZM447.38 228.7H449.38V236.3H447.38ZM447.93 217.4H448.83V240.1H447.93ZM449.94 229.8H451.94V240.6H449.94ZM450.49 228.7H451.39V244.4H450.49ZM460.17 224.4H462.17V228.2H460.17ZM460.72 216.3H461.62V228.7H460.72ZM462.72 224.9H464.72V231.4H462.72ZM463.27 224.4H464.17V234.7H463.27ZM467.84 229.5H469.84V232.7H467.84ZM468.39 225.2H469.29V233.2H468.39ZM478.06 228.8H480.06V233.7H478.06ZM478.61 217.5H479.51V234.5H478.61ZM483.18 226.1H485.18V231.8H483.18ZM483.73 223.2H484.63V232.3H483.73ZM498.52 199.9H500.52V213.4H498.52ZM499.07 199.4H499.97V214.5H499.07ZM501.07 202.1H503.07V216.2H501.07ZM501.62 201.5H502.52V216.7H501.62ZM503.63 212.4H505.63V215.6H503.63ZM504.18 211.8H505.08V222.6H504.18ZM506.19 214.5H508.19V216.7H506.19ZM506.74 209.7H507.64V220.5H506.74ZM508.74 215.6H510.74V216.7H508.74ZM509.29 215.1H510.19V217.2H509.29ZM521.53 188.0H523.53V195.6H521.53ZM522.08 187.5H522.98V196.1H522.08ZM524.08 194.0H526.08V199.4H524.08ZM524.63 193.4H525.53V199.9H524.63ZM526.64 194.5H528.64V196.1H526.64ZM527.19 194.0H528.09V196.7H527.19ZM529.20 195.0H531.20V203.2H529.20ZM529.75 194.5H530.65V203.7H529.75ZM531.75 203.2H533.75V207.5H531.75ZM532.30 202.6H533.20V209.7H532.30ZM534.31 206.4H536.31V228.1H534.31ZM534.86 205.9H535.76V228.6H534.86ZM544.54 220.6H546.54V223.8H544.54ZM545.09 219.5H545.99V224.4H545.09ZM547.09 222.7H549.09V236.3H547.09ZM547.64 222.2H548.54V236.8H547.64ZM557.32 222.7H559.32V244.9H557.32ZM557.87 222.2H558.77V250.9H557.87ZM559.88 244.9H561.88V246.6H559.88ZM560.43 244.4H561.33V261.7H560.43ZM562.43 246.6H564.43V274.9H562.43ZM562.98 246.0H563.88V289.5H562.98ZM564.99 274.4H566.99V284.1H564.99ZM565.54 271.1H566.44V290.6H565.54ZM570.10 273.8H572.10V290.1H570.10ZM570.65 271.1H571.55V305.2H570.65ZM572.66 289.5H574.66V304.7H572.66ZM573.21 283.6H574.11V311.7H573.21ZM575.22 304.4H577.22V366.9H575.22ZM575.77 304.0H576.67V369.9H575.77ZM580.33 318.4H582.33V326.5H580.33ZM580.88 311.8H581.78V338.2H580.88ZM585.44 320.3H587.44V328.9H585.44ZM585.99 314.0H586.89V332.5H585.99Z" fill="#f23645"/><path d="M263.9 81.6L358.6 150.1M250.3 131.6L368.5 202.4" stroke="#e8e8e8" stroke-width="1.8" stroke-linecap="round"/><path d="M7 329.4H957" stroke="#f23645" stroke-width="1" stroke-dasharray="1 1" opacity="0.42"/><path d="M583 381.8L731.5 203.9L760.3 254.4L853.8 129.3L874.6 164L937.5 66.5L941 76M931 68L937.5 66.5" fill="none" stroke="#4caf50" stroke-width="1.5" stroke-dasharray="1.6 2.4"/><text x="556.52" y="95.8" textLength="70.06" lengthAdjust="spacing" font-family='"Liberation Sans", sans-serif' font-size="9.6" font-weight="normal" fill="#e4e6ec" stroke="#e4e6ec" stroke-width="0.15">ATH: $126,080</text><text x="584.82" y="162.1" textLength="146.36" lengthAdjust="spacing" font-family='"Liberation Sans", sans-serif' font-size="9.6" font-weight="normal" fill="#e4e6ec" stroke="#e4e6ec" stroke-width="0.15">$100k Support/Resistance Zone</text><text x="774.12" y="252.1" textLength="152.76" lengthAdjust="spacing" font-family='"Liberation Sans", sans-serif' font-size="9.6" font-weight="normal" fill="#e4e6ec" stroke="#e4e6ec" stroke-width="0.15">$80k Psychological Support Zone</text><text x="206.09" y="189.9" textLength="51.72" lengthAdjust="spacing" font-family='"Liberation Sans", sans-serif' font-size="10.2" font-weight="normal" fill="#d6d8de" stroke="#d6d8de" stroke-width="0.12">Bullish Flag</text><text x="12.56" y="32.9" textLength="137.58" lengthAdjust="spacing" font-family='"Liberation Sans", sans-serif' font-size="8.8" font-weight="normal" fill="#b2b5be" >Bitcoin / U.S. Dollar · 1D · Coinbase</text><text x="154.70" y="32.9" font-family='"Liberation Sans", sans-serif' font-size="8.8" fill="#b2b5be">O</text><text x="160.96" y="32.9" textLength="39.68" lengthAdjust="spacing" font-family='"Liberation Sans", sans-serif' font-size="8.8" font-weight="normal" fill="#f23645" >70,279.32</text><text x="205.10" y="32.9" font-family='"Liberation Sans", sans-serif' font-size="8.8" fill="#b2b5be">H</text><text x="211.76" y="32.9" textLength="37.58" lengthAdjust="spacing" font-family='"Liberation Sans", sans-serif' font-size="8.8" font-weight="normal" fill="#f23645" >71,380.13</text><text x="254.30" y="32.9" font-family='"Liberation Sans", sans-serif' font-size="8.8" fill="#b2b5be">L</text><text x="258.56" y="32.9" textLength="39.68" lengthAdjust="spacing" font-family='"Liberation Sans", sans-serif' font-size="8.8" font-weight="normal" fill="#f23645" >68,233.01</text><text x="302.60" y="32.9" font-family='"Liberation Sans", sans-serif' font-size="8.8" fill="#b2b5be">C</text><text x="308.96" y="32.9" textLength="40.38" lengthAdjust="spacing" font-family='"Liberation Sans", sans-serif' font-size="8.8" font-weight="normal" fill="#f23645" >68,826.02</text><text x="354.36" y="32.9" textLength="76.68" lengthAdjust="spacing" font-family='"Liberation Sans", sans-serif' font-size="8.8" font-weight="normal" fill="#f23645" >−1,453.31 (−2.07%)</text><text x="12.46" y="44.9" textLength="36.28" lengthAdjust="spacing" font-family='"Liberation Sans", sans-serif' font-size="8.8" font-weight="normal" fill="#b2b5be" >Vol · BTC</text><text x="53.06" y="44.9" textLength="22.68" lengthAdjust="spacing" font-family='"Liberation Sans", sans-serif' font-size="8.8" font-weight="normal" fill="#ef5350" >7.21K</text><text x="12.46" y="56.4" textLength="57.48" lengthAdjust="spacing" font-family='"Liberation Sans", sans-serif' font-size="8.8" font-weight="normal" fill="#b2b5be" >MA (30, close)</text><text x="74.96" y="56.4" textLength="40.38" lengthAdjust="spacing" font-family='"Liberation Sans", sans-serif' font-size="8.8" font-weight="normal" fill="#2196f3" >84,624.78</text><text x="7.55" y="14.0" textLength="259.59" lengthAdjust="spacing" font-family='"Liberation Sans", sans-serif' font-size="8.95" font-weight="normal" fill="#dadada" stroke="#dadada" stroke-width="0.22">TimHakki created with TradingView.com, Feb 09, 2026 14:26 UTC</text><rect x="959.5" y="21.5" width="55" height="19" rx="3" fill="#0e0e0f" stroke="#3a3a3a" stroke-width="1"/><text x="965.47" y="34.6" textLength="18.26" lengthAdjust="spacing" font-family='"Liberation Sans", sans-serif' font-size="8.6" font-weight="bold" fill="#dcdcdc" >USD</text><text x="963.35" y="55.03" textLength="46.90" lengthAdjust="spacing" font-family='"Liberation Sans", sans-serif' font-size="9.0" font-weight="normal" fill="#b2b5be" >135,000.00</text><text x="963.35" y="80.07" textLength="46.90" lengthAdjust="spacing" font-family='"Liberation Sans", sans-serif' font-size="9.0" font-weight="normal" fill="#b2b5be" >127,000.00</text><text x="963.35" y="106.73" textLength="46.90" lengthAdjust="spacing" font-family='"Liberation Sans", sans-serif' font-size="9.0" font-weight="normal" fill="#b2b5be" >119,000.00</text><text x="963.35" y="135.25" textLength="46.90" lengthAdjust="spacing" font-family='"Liberation Sans", sans-serif' font-size="9.0" font-weight="normal" fill="#b2b5be" >111,000.00</text><text x="963.35" y="165.9" textLength="46.90" lengthAdjust="spacing" font-family='"Liberation Sans", sans-serif' font-size="9.0" font-weight="normal" fill="#b2b5be" >103,000.00</text><text x="963.35" y="199.04" textLength="41.90" lengthAdjust="spacing" font-family='"Liberation Sans", sans-serif' font-size="9.0" font-weight="normal" fill="#b2b5be" >95,000.00</text><text x="963.35" y="221.19" textLength="41.90" lengthAdjust="spacing" font-family='"Liberation Sans", sans-serif' font-size="9.0" font-weight="normal" fill="#b2b5be" >90,000.00</text><text x="963.35" y="279.84" textLength="41.90" lengthAdjust="spacing" font-family='"Liberation Sans", sans-serif' font-size="9.0" font-weight="normal" fill="#b2b5be" >78,000.00</text><text x="963.35" y="301.41" textLength="41.90" lengthAdjust="spacing" font-family='"Liberation Sans", sans-serif' font-size="9.0" font-weight="normal" fill="#b2b5be" >74,000.00</text><text x="963.35" y="324.18" textLength="41.90" lengthAdjust="spacing" font-family='"Liberation Sans", sans-serif' font-size="9.0" font-weight="normal" fill="#b2b5be" >70,000.00</text><text x="963.35" y="348.3" textLength="41.90" lengthAdjust="spacing" font-family='"Liberation Sans", sans-serif' font-size="9.0" font-weight="normal" fill="#b2b5be" >66,000.00</text><text x="963.35" y="373.92" textLength="41.90" lengthAdjust="spacing" font-family='"Liberation Sans", sans-serif' font-size="9.0" font-weight="normal" fill="#b2b5be" >62,000.00</text><text x="963.35" y="401.25" textLength="41.90" lengthAdjust="spacing" font-family='"Liberation Sans", sans-serif' font-size="9.0" font-weight="normal" fill="#b2b5be" >58,000.00</text><text x="963.35" y="423.01" textLength="41.90" lengthAdjust="spacing" font-family='"Liberation Sans", sans-serif' font-size="9.0" font-weight="normal" fill="#b2b5be" >55,000.00</text><text x="963.35" y="446.0" textLength="41.90" lengthAdjust="spacing" font-family='"Liberation Sans", sans-serif' font-size="9.0" font-weight="normal" fill="#b2b5be" >52,000.00</text><text x="963.35" y="468.68" textLength="41.90" lengthAdjust="spacing" font-family='"Liberation Sans", sans-serif' font-size="9.0" font-weight="normal" fill="#b2b5be" >49,200.00</text><text x="963.35" y="490.05" textLength="41.90" lengthAdjust="spacing" font-family='"Liberation Sans", sans-serif' font-size="9.0" font-weight="normal" fill="#b2b5be" >46,700.00</text><text x="963.35" y="511.67" textLength="41.90" lengthAdjust="spacing" font-family='"Liberation Sans", sans-serif' font-size="9.0" font-weight="normal" fill="#b2b5be" >44,300.00</text><rect x="957.8" y="238.9" width="51.3" height="11.9" fill="#2196f3" rx="1.5"/><text x="963.05" y="247.95" textLength="41.90" lengthAdjust="spacing" font-family='"Liberation Sans", sans-serif' font-size="9.0" font-weight="normal" fill="#ffffff" >84,624.78</text><rect x="957.8" y="323.7" width="51.3" height="11.3" fill="#f23645" rx="1.5"/><text x="963.05" y="332.45" textLength="41.90" lengthAdjust="spacing" font-family='"Liberation Sans", sans-serif' font-size="9.0" font-weight="normal" fill="#ffffff" >68,826.02</text><rect x="957.8" y="493.1" width="34.2" height="11.5" fill="#ef5350" rx="1.5"/><text x="963.05" y="501.95" textLength="25.40" lengthAdjust="spacing" font-family='"Liberation Sans", sans-serif' font-size="9.0" font-weight="normal" fill="#ffffff" >7.21K</text><rect x="957.8" y="558.5" width="33.2" height="11.5" fill="#7e57c2" rx="1.5"/><text x="963.05" y="567.35" textLength="23.50" lengthAdjust="spacing" font-family='"Liberation Sans", sans-serif' font-size="9.0" font-weight="normal" fill="#ffffff" >32.15</text><rect x="957.8" y="570.6" width="33.2" height="11.5" fill="#fdd835" rx="1.5"/><text x="963.05" y="579.45" textLength="23.50" lengthAdjust="spacing" font-family='"Liberation Sans", sans-serif' font-size="9.0" font-weight="normal" fill="#131722" >30.77</text><text x="963.05" y="528.85" textLength="23.70" lengthAdjust="spacing" font-family='"Liberation Sans", sans-serif' font-size="9.0" font-weight="normal" fill="#b2b5be" >75.00</text><text x="963.05" y="551.1" textLength="23.70" lengthAdjust="spacing" font-family='"Liberation Sans", sans-serif' font-size="9.0" font-weight="normal" fill="#b2b5be" >50.00</text><rect x="7" y="530.30" width="950" height="35.60" fill="#7e57c2" fill-opacity="0.1"/><path d="M7 530.30H957M7 548.10H957M7 565.90H957" stroke="#787b86" stroke-opacity="0.7" stroke-width="1" stroke-dasharray="3.7 4"/><defs><clipPath id="below30"><rect x="7" y="565.90" width="950" height="30"/></clipPath><clipPath id="above70"><rect x="7" y="500" width="950" height="30.30"/></clipPath><linearGradient id="gr30" x1="0" y1="565.90" x2="0" y2="578.36" gradientUnits="userSpaceOnUse"><stop offset="0" stop-color="#f23645" stop-opacity="0.05"/><stop offset="1" stop-color="#f23645" stop-opacity="0.5"/></linearGradient><linearGradient id="gr70" x1="0" y1="530.30" x2="0" y2="514.28" gradientUnits="userSpaceOnUse"><stop offset="0" stop-color="#089981" stop-opacity="0"/><stop offset="1" stop-color="#089981" stop-opacity="0.75"/></linearGradient></defs><polygon points="8.63,565.90 8.63,542.03 11.19,538.39 13.74,544.55 16.30,550.48 18.86,539.71 21.41,538.15 23.97,543.86 26.53,542.84 29.08,540.65 31.64,544.80 34.20,541.89 36.75,536.10 39.31,527.81 41.87,524.35 44.42,528.11 46.98,526.02 49.54,525.20 52.09,532.14 54.65,529.52 57.21,530.02 59.76,534.80 62.32,535.84 64.88,537.41 67.43,532.44 69.99,531.35 72.55,536.31 75.10,537.90 77.66,541.12 80.22,539.22 82.77,535.62 85.33,542.48 87.89,542.12 90.44,547.88 93.00,548.79 95.56,555.22 98.11,557.24 100.67,550.77 103.23,547.74 105.78,552.52 108.34,547.91 110.90,542.62 113.45,546.45 116.01,545.66 118.57,539.23 121.12,542.42 123.68,538.16 126.24,532.35 128.79,546.51 131.35,547.47 133.91,545.95 136.46,546.27 139.02,550.04 141.58,556.34 144.14,552.48 146.69,556.21 149.25,546.63 151.81,549.72 154.36,553.04 156.92,558.29 159.48,554.19 162.03,555.67 164.59,552.14 167.15,558.57 169.70,557.36 172.26,558.39 174.82,554.63 177.37,551.61 179.93,550.44 182.49,553.15 185.04,553.08 187.60,553.72 190.16,550.41 192.71,547.92 195.27,551.31 197.83,544.20 200.38,541.53 202.94,540.06 205.50,541.68 208.05,542.94 210.61,539.95 213.17,539.27 215.72,541.28 218.28,539.05 220.84,545.38 223.39,543.77 225.95,545.70 228.51,552.79 231.06,554.92 233.62,549.19 236.18,559.57 238.73,556.76 241.29,557.59 243.85,549.87 246.40,545.18 248.96,548.62 251.52,538.18 254.07,535.20 256.63,533.05 259.19,532.85 261.74,530.85 264.30,528.94 266.86,540.01 269.41,536.25 271.97,543.59 274.53,554.59 277.08,557.50 279.64,550.33 282.20,549.42 284.75,553.14 287.31,556.12 289.87,559.13 292.42,560.08 294.98,559.57 297.54,556.14 300.09,552.90 302.65,556.61 305.21,557.59 307.76,552.53 310.32,550.62 312.88,549.80 315.43,544.19 317.99,545.66 320.55,547.71 323.10,553.00 325.66,555.80 328.22,551.74 330.77,551.63 333.33,550.05 335.89,557.78 338.44,564.48 341.00,558.76 343.56,562.16 346.11,556.62 348.67,558.85 351.23,553.32 353.78,551.14 356.34,556.49 358.90,557.84 361.45,560.34 364.01,565.94 366.57,560.87 369.12,563.70 371.68,565.57 374.24,563.89 376.79,565.48 379.35,569.84 381.91,571.01 384.46,571.09 387.02,566.45 389.58,563.36 392.13,564.56 394.69,557.57 397.25,555.91 399.81,556.43 402.36,556.98 404.92,557.37 407.48,563.36 410.03,552.59 412.59,548.91 415.15,551.10 417.70,555.64 420.26,555.64 422.82,552.72 425.37,552.22 427.93,548.25 430.49,550.16 433.04,548.09 435.60,553.85 438.16,552.28 440.71,556.99 443.27,559.17 445.83,555.28 448.38,557.99 450.94,559.45 453.50,552.81 456.05,552.03 458.61,551.77 461.17,553.02 463.72,554.50 466.28,552.85 468.84,554.84 471.39,548.49 473.95,551.83 476.51,551.83 479.06,554.58 481.62,549.60 484.18,552.83 486.73,548.53 489.29,545.25 491.85,543.40 494.40,541.02 496.96,535.78 499.52,544.21 502.07,545.89 504.63,545.55 507.19,546.27 509.74,546.27 512.30,544.78 514.86,540.58 517.41,533.41 519.97,530.34 522.53,537.10 525.08,539.98 527.64,538.24 530.20,543.52 532.75,546.44 535.31,557.23 537.87,553.65 540.42,552.99 542.98,552.67 545.54,554.45 548.09,560.31 550.65,554.23 553.21,551.60 555.76,550.61 558.32,561.11 560.88,561.71 563.43,569.50 565.99,571.37 568.55,566.10 571.10,569.51 573.66,572.14 576.22,579.16 578.77,563.57 581.33,564.83 583.89,562.89 586.44,564.29 586.44,565.90" fill="url(#gr30)" clip-path="url(#below30)"/><polygon points="8.63,530.30 8.63,542.03 11.19,538.39 13.74,544.55 16.30,550.48 18.86,539.71 21.41,538.15 23.97,543.86 26.53,542.84 29.08,540.65 31.64,544.80 34.20,541.89 36.75,536.10 39.31,527.81 41.87,524.35 44.42,528.11 46.98,526.02 49.54,525.20 52.09,532.14 54.65,529.52 57.21,530.02 59.76,534.80 62.32,535.84 64.88,537.41 67.43,532.44 69.99,531.35 72.55,536.31 75.10,537.90 77.66,541.12 80.22,539.22 82.77,535.62 85.33,542.48 87.89,542.12 90.44,547.88 93.00,548.79 95.56,555.22 98.11,557.24 100.67,550.77 103.23,547.74 105.78,552.52 108.34,547.91 110.90,542.62 113.45,546.45 116.01,545.66 118.57,539.23 121.12,542.42 123.68,538.16 126.24,532.35 128.79,546.51 131.35,547.47 133.91,545.95 136.46,546.27 139.02,550.04 141.58,556.34 144.14,552.48 146.69,556.21 149.25,546.63 151.81,549.72 154.36,553.04 156.92,558.29 159.48,554.19 162.03,555.67 164.59,552.14 167.15,558.57 169.70,557.36 172.26,558.39 174.82,554.63 177.37,551.61 179.93,550.44 182.49,553.15 185.04,553.08 187.60,553.72 190.16,550.41 192.71,547.92 195.27,551.31 197.83,544.20 200.38,541.53 202.94,540.06 205.50,541.68 208.05,542.94 210.61,539.95 213.17,539.27 215.72,541.28 218.28,539.05 220.84,545.38 223.39,543.77 225.95,545.70 228.51,552.79 231.06,554.92 233.62,549.19 236.18,559.57 238.73,556.76 241.29,557.59 243.85,549.87 246.40,545.18 248.96,548.62 251.52,538.18 254.07,535.20 256.63,533.05 259.19,532.85 261.74,530.85 264.30,528.94 266.86,540.01 269.41,536.25 271.97,543.59 274.53,554.59 277.08,557.50 279.64,550.33 282.20,549.42 284.75,553.14 287.31,556.12 289.87,559.13 292.42,560.08 294.98,559.57 297.54,556.14 300.09,552.90 302.65,556.61 305.21,557.59 307.76,552.53 310.32,550.62 312.88,549.80 315.43,544.19 317.99,545.66 320.55,547.71 323.10,553.00 325.66,555.80 328.22,551.74 330.77,551.63 333.33,550.05 335.89,557.78 338.44,564.48 341.00,558.76 343.56,562.16 346.11,556.62 348.67,558.85 351.23,553.32 353.78,551.14 356.34,556.49 358.90,557.84 361.45,560.34 364.01,565.94 366.57,560.87 369.12,563.70 371.68,565.57 374.24,563.89 376.79,565.48 379.35,569.84 381.91,571.01 384.46,571.09 387.02,566.45 389.58,563.36 392.13,564.56 394.69,557.57 397.25,555.91 399.81,556.43 402.36,556.98 404.92,557.37 407.48,563.36 410.03,552.59 412.59,548.91 415.15,551.10 417.70,555.64 420.26,555.64 422.82,552.72 425.37,552.22 427.93,548.25 430.49,550.16 433.04,548.09 435.60,553.85 438.16,552.28 440.71,556.99 443.27,559.17 445.83,555.28 448.38,557.99 450.94,559.45 453.50,552.81 456.05,552.03 458.61,551.77 461.17,553.02 463.72,554.50 466.28,552.85 468.84,554.84 471.39,548.49 473.95,551.83 476.51,551.83 479.06,554.58 481.62,549.60 484.18,552.83 486.73,548.53 489.29,545.25 491.85,543.40 494.40,541.02 496.96,535.78 499.52,544.21 502.07,545.89 504.63,545.55 507.19,546.27 509.74,546.27 512.30,544.78 514.86,540.58 517.41,533.41 519.97,530.34 522.53,537.10 525.08,539.98 527.64,538.24 530.20,543.52 532.75,546.44 535.31,557.23 537.87,553.65 540.42,552.99 542.98,552.67 545.54,554.45 548.09,560.31 550.65,554.23 553.21,551.60 555.76,550.61 558.32,561.11 560.88,561.71 563.43,569.50 565.99,571.37 568.55,566.10 571.10,569.51 573.66,572.14 576.22,579.16 578.77,563.57 581.33,564.83 583.89,562.89 586.44,564.29 586.44,530.30" fill="url(#gr70)" clip-path="url(#above70)"/><polyline points="8.63,542.03 11.19,538.39 13.74,544.55 16.30,550.48 18.86,539.71 21.41,538.15 23.97,543.86 26.53,542.84 29.08,540.65 31.64,544.80 34.20,541.89 36.75,536.10 39.31,527.81 41.87,524.35 44.42,528.11 46.98,526.02 49.54,525.20 52.09,532.14 54.65,529.52 57.21,530.02 59.76,534.80 62.32,535.84 64.88,537.41 67.43,532.44 69.99,531.35 72.55,536.31 75.10,537.90 77.66,541.12 80.22,539.22 82.77,535.62 85.33,542.48 87.89,542.12 90.44,547.88 93.00,548.79 95.56,555.22 98.11,557.24 100.67,550.77 103.23,547.74 105.78,552.52 108.34,547.91 110.90,542.62 113.45,546.45 116.01,545.66 118.57,539.23 121.12,542.42 123.68,538.16 126.24,532.35 128.79,546.51 131.35,547.47 133.91,545.95 136.46,546.27 139.02,550.04 141.58,556.34 144.14,552.48 146.69,556.21 149.25,546.63 151.81,549.72 154.36,553.04 156.92,558.29 159.48,554.19 162.03,555.67 164.59,552.14 167.15,558.57 169.70,557.36 172.26,558.39 174.82,554.63 177.37,551.61 179.93,550.44 182.49,553.15 185.04,553.08 187.60,553.72 190.16,550.41 192.71,547.92 195.27,551.31 197.83,544.20 200.38,541.53 202.94,540.06 205.50,541.68 208.05,542.94 210.61,539.95 213.17,539.27 215.72,541.28 218.28,539.05 220.84,545.38 223.39,543.77 225.95,545.70 228.51,552.79 231.06,554.92 233.62,549.19 236.18,559.57 238.73,556.76 241.29,557.59 243.85,549.87 246.40,545.18 248.96,548.62 251.52,538.18 254.07,535.20 256.63,533.05 259.19,532.85 261.74,530.85 264.30,528.94 266.86,540.01 269.41,536.25 271.97,543.59 274.53,554.59 277.08,557.50 279.64,550.33 282.20,549.42 284.75,553.14 287.31,556.12 289.87,559.13 292.42,560.08 294.98,559.57 297.54,556.14 300.09,552.90 302.65,556.61 305.21,557.59 307.76,552.53 310.32,550.62 312.88,549.80 315.43,544.19 317.99,545.66 320.55,547.71 323.10,553.00 325.66,555.80 328.22,551.74 330.77,551.63 333.33,550.05 335.89,557.78 338.44,564.48 341.00,558.76 343.56,562.16 346.11,556.62 348.67,558.85 351.23,553.32 353.78,551.14 356.34,556.49 358.90,557.84 361.45,560.34 364.01,565.94 366.57,560.87 369.12,563.70 371.68,565.57 374.24,563.89 376.79,565.48 379.35,569.84 381.91,571.01 384.46,571.09 387.02,566.45 389.58,563.36 392.13,564.56 394.69,557.57 397.25,555.91 399.81,556.43 402.36,556.98 404.92,557.37 407.48,563.36 410.03,552.59 412.59,548.91 415.15,551.10 417.70,555.64 420.26,555.64 422.82,552.72 425.37,552.22 427.93,548.25 430.49,550.16 433.04,548.09 435.60,553.85 438.16,552.28 440.71,556.99 443.27,559.17 445.83,555.28 448.38,557.99 450.94,559.45 453.50,552.81 456.05,552.03 458.61,551.77 461.17,553.02 463.72,554.50 466.28,552.85 468.84,554.84 471.39,548.49 473.95,551.83 476.51,551.83 479.06,554.58 481.62,549.60 484.18,552.83 486.73,548.53 489.29,545.25 491.85,543.40 494.40,541.02 496.96,535.78 499.52,544.21 502.07,545.89 504.63,545.55 507.19,546.27 509.74,546.27 512.30,544.78 514.86,540.58 517.41,533.41 519.97,530.34 522.53,537.10 525.08,539.98 527.64,538.24 530.20,543.52 532.75,546.44 535.31,557.23 537.87,553.65 540.42,552.99 542.98,552.67 545.54,554.45 548.09,560.31 550.65,554.23 553.21,551.60 555.76,550.61 558.32,561.11 560.88,561.71 563.43,569.50 565.99,571.37 568.55,566.10 571.10,569.51 573.66,572.14 576.22,579.16 578.77,563.57 581.33,564.83 583.89,562.89 586.44,564.29" fill="none" stroke="#7e57c2" stroke-width="1.0" stroke-linejoin="round"/><polyline points="8.63,548.00 11.19,546.97 13.74,546.19 16.30,545.74 18.86,544.48 21.41,543.13 23.97,542.30 26.53,541.52 29.08,540.72 31.64,540.37 34.20,540.17 36.75,540.04 39.31,539.87 41.87,539.69 44.42,538.69 46.98,537.81 49.54,536.43 52.09,535.12 54.65,534.39 57.21,533.81 59.76,533.16 62.32,532.66 64.88,532.43 67.43,531.55 69.99,530.79 72.55,530.81 75.10,531.53 77.66,532.73 80.22,533.52 82.77,534.21 85.33,535.44 87.89,536.15 90.44,537.46 93.00,538.81 95.56,540.26 98.11,541.79 100.67,542.75 103.23,543.84 105.78,545.35 108.34,546.18 110.90,546.52 113.45,546.90 116.01,547.36 118.57,547.62 121.12,547.61 123.68,547.33 126.24,546.22 128.79,546.06 131.35,545.50 133.91,544.70 136.46,544.38 139.02,544.54 141.58,544.81 144.14,545.14 146.69,546.11 149.25,546.12 151.81,546.41 154.36,547.40 156.92,548.53 159.48,549.68 162.03,551.34 164.59,551.75 167.15,552.54 169.70,553.35 172.26,554.22 174.82,554.55 177.37,554.21 179.93,554.06 182.49,553.85 185.04,554.31 187.60,554.59 190.16,554.40 192.71,553.66 195.27,553.46 197.83,552.64 200.38,551.88 202.94,550.56 205.50,549.44 208.05,548.33 210.61,547.29 213.17,546.40 215.72,545.75 218.28,544.74 220.84,544.19 223.39,543.48 225.95,543.15 228.51,543.49 231.06,543.75 233.62,544.11 236.18,545.40 238.73,546.59 241.29,547.73 243.85,548.22 246.40,548.60 248.96,549.26 251.52,549.04 254.07,548.77 256.63,547.89 259.19,547.11 261.74,546.05 264.30,544.34 266.86,543.28 269.41,542.35 271.97,541.21 274.53,541.06 277.08,541.05 279.64,541.08 282.20,541.38 284.75,541.71 287.31,542.99 289.87,544.70 292.42,546.63 294.98,548.54 297.54,550.34 300.09,552.06 302.65,553.24 305.21,554.77 307.76,555.40 310.32,555.12 312.88,554.57 315.43,554.13 317.99,553.86 320.55,553.48 323.10,553.25 325.66,553.01 328.22,552.42 330.77,551.85 333.33,551.42 335.89,551.77 338.44,552.33 341.00,552.41 343.56,553.10 346.11,553.53 348.67,554.17 351.23,554.83 353.78,555.22 356.34,555.85 358.90,556.19 361.45,556.52 364.01,557.53 366.57,558.19 369.12,559.16 371.68,559.72 374.24,559.68 376.79,560.16 379.35,560.71 381.91,561.74 384.46,562.61 387.02,563.55 389.58,564.42 392.13,565.00 394.69,564.98 397.25,564.66 399.81,563.98 402.36,563.70 404.92,563.25 407.48,563.09 410.03,562.29 412.59,561.10 415.15,559.76 417.70,558.67 420.26,557.56 422.82,556.58 425.37,555.79 427.93,554.62 430.49,554.09 433.04,553.53 435.60,553.35 438.16,553.01 440.71,552.99 443.27,552.69 445.83,552.88 448.38,553.53 450.94,554.12 453.50,553.92 456.05,553.66 458.61,553.60 461.17,553.65 463.72,554.10 466.28,554.29 468.84,554.77 471.39,554.39 473.95,554.36 476.51,553.99 479.06,553.66 481.62,553.26 484.18,552.89 486.73,552.11 489.29,551.57 491.85,550.95 494.40,550.18 496.96,548.95 499.52,548.22 502.07,547.72 504.63,547.06 507.19,546.90 509.74,546.50 512.30,546.00 514.86,545.00 517.41,543.84 519.97,542.23 522.53,541.42 525.08,541.04 527.64,540.67 530.20,540.85 532.75,541.61 535.31,542.54 537.87,543.10 540.42,543.63 542.98,544.09 545.54,544.67 548.09,545.78 550.65,546.75 553.21,548.05 555.76,549.50 558.32,551.21 560.88,552.77 563.43,555.00 565.99,556.99 568.55,558.39 571.10,559.27 573.66,560.59 576.22,562.46 578.77,563.24 581.33,563.98 583.89,564.16 586.44,564.88" fill="none" stroke="#d8b42d" stroke-width="1.3" stroke-linejoin="round"/><text x="12.16" y="532.0" textLength="57.48" lengthAdjust="spacing" font-family='"Liberation Sans", sans-serif' font-size="8.8" font-weight="normal" fill="#b2b5be" >RSI (14, close)</text><text x="74.26" y="532.0" textLength="21.38" lengthAdjust="spacing" font-family='"Liberation Sans", sans-serif' font-size="8.8" font-weight="normal" fill="#7e57c2" >32.15</text><text x="100.06" y="532.0" textLength="22.58" lengthAdjust="spacing" font-family='"Liberation Sans", sans-serif' font-size="8.8" font-weight="normal" fill="#fdd835" >30.77</text><text x="9.55" y="598.0" textLength="12.15" lengthAdjust="spacing" font-family='"Liberation Sans", sans-serif' font-size="9.0" font-weight="normal" fill="#b2b5be" >Jul</text><text x="87.05" y="598.0" textLength="15.90" lengthAdjust="spacing" font-family='"Liberation Sans", sans-serif' font-size="9.0" font-weight="normal" fill="#b2b5be" >Aug</text><text x="166.55" y="598.0" textLength="15.90" lengthAdjust="spacing" font-family='"Liberation Sans", sans-serif' font-size="9.0" font-weight="normal" fill="#b2b5be" >Sep</text><text x="243.30" y="598.0" textLength="15.40" lengthAdjust="spacing" font-family='"Liberation Sans", sans-serif' font-size="9.0" font-weight="normal" fill="#b2b5be" >Oct</text><text x="322.05" y="598.0" textLength="16.40" lengthAdjust="spacing" font-family='"Liberation Sans", sans-serif' font-size="9.0" font-weight="normal" fill="#b2b5be" >Nov</text><text x="399.05" y="598.0" textLength="16.40" lengthAdjust="spacing" font-family='"Liberation Sans", sans-serif' font-size="9.0" font-weight="normal" fill="#b2b5be" >Dec</text><text x="475.05" y="598.0" textLength="22.90" lengthAdjust="spacing" font-family='"Liberation Sans", sans-serif' font-size="9.0" font-weight="bold" fill="#b2b5be" >2026</text><text x="558.30" y="598.0" textLength="15.15" lengthAdjust="spacing" font-family='"Liberation Sans", sans-serif' font-size="9.0" font-weight="normal" fill="#b2b5be" >Feb</text><text x="629.05" y="598.0" textLength="16.40" lengthAdjust="spacing" font-family='"Liberation Sans", sans-serif' font-size="9.0" font-weight="normal" fill="#b2b5be" >Mar</text><text x="709.55" y="598.0" textLength="13.90" lengthAdjust="spacing" font-family='"Liberation Sans", sans-serif' font-size="9.0" font-weight="normal" fill="#b2b5be" >Apr</text><text x="784.55" y="598.0" textLength="17.15" lengthAdjust="spacing" font-family='"Liberation Sans", sans-serif' font-size="9.0" font-weight="normal" fill="#b2b5be" >May</text><text x="865.30" y="598.0" textLength="14.65" lengthAdjust="spacing" font-family='"Liberation Sans", sans-serif' font-size="9.0" font-weight="normal" fill="#b2b5be" >Jun</text><text x="943.30" y="598.0" textLength="12.15" lengthAdjust="spacing" font-family='"Liberation Sans", sans-serif' font-size="9.0" font-weight="normal" fill="#b2b5be" >Jul</text><g fill="#e6e6e6"><path d="M8.2 619.2H16.9V629.7H12.25V623.7H8.2Z"/><circle cx="20.1" cy="621.5" r="2.05"/><path d="M24.5 619.2H29.15L24.9 629.7H20.3Z"/></g><text x="33.54" y="629.7" textLength="85.92"  font-family='"Liberation Sans", sans-serif' font-size="15.2" font-weight="bold" fill="#e6e6e6" lengthAdjust="spacingAndGlyphs">TradingView</text></svg></div></body></html>
